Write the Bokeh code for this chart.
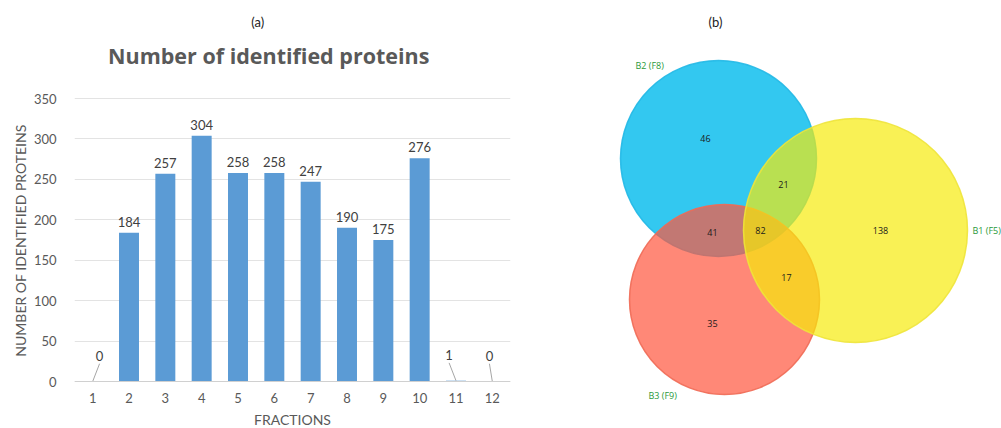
import math
from bokeh.plotting import figure
from bokeh.layouts import row
from bokeh.models import ColumnDataSource, FactorRange, Range1d, FixedTicker
from bokeh.embed import file_html
from bokeh.resources import INLINE
from bokeh.core.properties import value

# ---- data: proteins identified per fraction ----
fractions = [str(i) for i in range(1, 13)]
proteins = [0, 184, 257, 304, 258, 258, 247, 190, 175, 276, 1, 0]
y_ticks = [0, 50, 100, 150, 200, 250, 300, 350]

# ---- data: overlap of three fractions (Venn) ----
set_names = ["B1 (F5)", "B2 (F8)", "B3 (F9)"]
region_names = ["B2 only", "B1&B2", "B2&B3", "B1&B2&B3", "B1 only", "B1&B3", "B3 only"]
region_counts = [46, 21, 41, 82, 138, 17, 35]

FONT = "Lato"
TXT = "#595959"
H = 428

# ================= y-axis title strip =================
W0 = 30
p0 = figure(x_range=Range1d(0, W0), y_range=Range1d(0, H), width=W0, height=H,
            output_backend="svg", toolbar_location=None, min_border=0)
p0.title = None
p0.axis.visible = False
p0.grid.grid_line_color = None
p0.outline_line_color = None
p0.text(x=[20], y=[H - 240], text=["NUMBER OF IDENTIFIED PROTEINS"],
        angle=math.pi / 2, text_align="center", text_baseline="middle",
        text_font=value(FONT), text_font_size="14px", text_color=TXT)

# ================= bar chart =================
# The plot frame spans the full height; the value axis occupies the band
# between ZERO_PX and TOP_PX, titles sit above it and the category axis below.
W1 = 500
LEFT, RIGHT = 40, 20
ZERO_PX, TOP_PX, YMAX = 381, 98, 350
unit_px = (ZERO_PX - TOP_PX) / YMAX
cat_px = (W1 - LEFT - RIGHT) / len(fractions)


def cx(px):
    """page x pixel -> categorical synthetic coordinate"""
    return (px - W0 - LEFT) / cat_px


def cy(px):
    """page y pixel -> value coordinate"""
    return (ZERO_PX - px) / unit_px


p1 = figure(x_range=FactorRange(*fractions, range_padding=0),
            y_range=Range1d(cy(H), cy(0)),
            width=W1, height=H, output_backend="svg", toolbar_location=None,
            min_border_left=LEFT, min_border_right=RIGHT, min_border_top=0,
            min_border_bottom=0)
p1.outline_line_color = None
p1.title = None

src = ColumnDataSource(dict(fraction=fractions, count=proteins))
p1.vbar(x="fraction", top="count", width=0.55, source=src,
        fill_color="#5B9BD5", line_color=None)

# value labels above the taller bars
big = [i for i, v in enumerate(proteins) if v >= 20]
p1.text(x=[fractions[i] for i in big], y=[proteins[i] for i in big],
        text=[str(proteins[i]) for i in big], text_align="center",
        text_baseline="bottom", y_offset=-6, text_font=value(FONT),
        text_font_size="13px", text_color="#404040")

# callout labels with leader lines for the near-zero bars
small = [i for i, v in enumerate(proteins) if v < 20]
shift = {0: 0.19, 10: -0.19, 11: -0.08}
x0 = [i + 0.5 for i in small]
x1 = [i + 0.5 + shift[i] for i in small]
y0 = [proteins[i] for i in small]
y1 = [proteins[i] + 22 for i in small]
p1.segment(x0=x0, y0=y0, x1=x1, y1=y1, line_color="#a6a6a6", line_width=1)
p1.text(x=x1, y=y1, text=[str(proteins[i]) for i in small], text_align="center",
        text_baseline="bottom", y_offset=-3, text_font=value(FONT),
        text_font_size="13px", text_color="#404040")

# titles
p1.text(x=[cx(266)], y=[cy(55)], text=["Number of identified proteins"],
        text_align="center", text_baseline="middle",
        text_font=value("Open Sans"), text_font_size="21.5px",
        text_font_style="bold", text_color=TXT)
p1.text(x=[cx(255)], y=[cy(21)], text=["(a)"], text_align="center",
        text_baseline="middle", text_font=value(FONT), text_font_size="13px",
        text_color="#222222")

p1.xgrid.grid_line_color = None
p1.ygrid.grid_line_color = "#e3e3e3"
p1.yaxis.ticker = FixedTicker(ticks=y_ticks)
p1.yaxis.axis_line_color = None
p1.yaxis.major_tick_line_color = None
p1.yaxis.minor_tick_line_color = None
p1.yaxis.major_label_standoff = 12

p1.xaxis.fixed_location = 0
p1.xaxis.axis_label = "FRACTIONS"
p1.xaxis.axis_label_standoff = 5
p1.xaxis.axis_line_color = "#d0d0d0"
p1.xaxis.major_tick_line_color = None
p1.xaxis.minor_tick_line_color = None
p1.xaxis.major_label_standoff = 5
for ax in (p1.xaxis, p1.yaxis):
    ax.major_label_text_font = FONT
    ax.major_label_text_font_size = "13px"
    ax.major_label_text_color = TXT
    ax.axis_label_text_font = FONT
    ax.axis_label_text_font_size = "14px"
    ax.axis_label_text_font_style = "normal"
    ax.axis_label_text_color = TXT

# ================= Venn diagram =================
W2 = 1001 - W0 - W1
p2 = figure(x_range=Range1d(0, W2), y_range=Range1d(0, H),
            width=W2, height=H, output_backend="svg", toolbar_location=None,
            min_border=0)
p2.title = None
p2.axis.visible = False
p2.grid.grid_line_color = None
p2.outline_line_color = None

# circle layout (centre x, centre y, radius) in pixels of this panel
venn_x = {"B2 (F8)": 188, "B3 (F9)": 194, "B1 (F5)": 325}
venn_y = {"B2 (F8)": 270, "B3 (F9)": 129, "B1 (F5)": 198}
venn_r = {"B2 (F8)": 98, "B3 (F9)": 95, "B1 (F5)": 112}
fills = {"B2 (F8)": ("#33C8F0", 1.0, "#22B8E6"),
         "B3 (F9)": ("#FF553D", 0.7, "#F06A55"),
         "B1 (F5)": ("#F6EB09", 0.69, "#EEE43A")}
for name in ["B2 (F8)", "B3 (F9)", "B1 (F5)"]:
    fc, fa, lc = fills[name]
    p2.circle(x=[venn_x[name]], y=[venn_y[name]], radius=venn_r[name],
              fill_color=fc, fill_alpha=fa, line_color=lc, line_width=1.5,
              line_alpha=0.9)

region_x = [175, 253, 182, 230, 350, 256, 182]
region_y = [290, 244, 196, 198, 198, 151, 105]
p2.text(x=region_x, y=region_y, text=[str(c) for c in region_counts],
        text_align="center", text_baseline="middle", text_font=value("Open Sans"),
        text_font_size="9px", text_color="#1a1a1a")

name_x = [442, 105, 118]
name_y = [198, 363, 33]
p2.text(x=name_x, y=name_y, text=set_names, text_align="left",
        text_baseline="middle", text_font=value("Open Sans"),
        text_font_size="9px", text_color="#2A9A3A")

p2.text(x=[185], y=[407], text=["(b)"], text_align="center",
        text_baseline="middle", text_font=value(FONT), text_font_size="13px",
        text_color="#222222")

layout = row(p0, p1, p2)
open("out.html", "w").write(file_html(layout, INLINE))
